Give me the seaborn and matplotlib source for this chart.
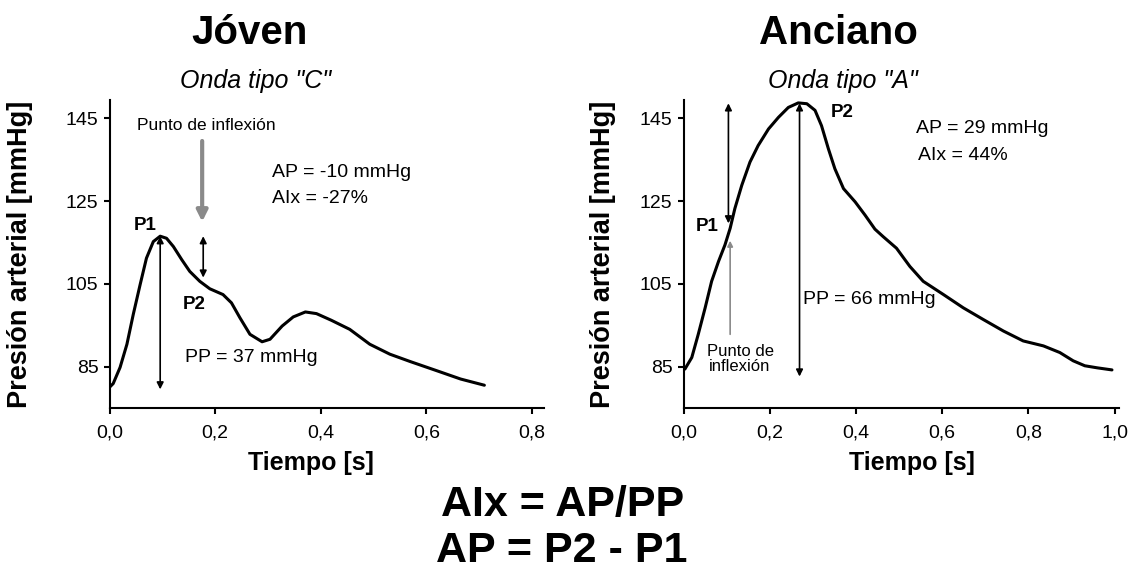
import matplotlib
matplotlib.use("Agg")
import matplotlib.pyplot as plt
import seaborn as sns
import pandas as pd

# Pressure waveform, young subject (type "C" wave)
t_joven = [0.000, 0.007, 0.020, 0.033, 0.045, 0.058, 0.070, 0.083, 0.096, 0.108,
           0.121, 0.137, 0.152, 0.171, 0.190, 0.215, 0.231, 0.247, 0.266, 0.289,
           0.304, 0.327, 0.348, 0.371, 0.392, 0.420, 0.455, 0.493, 0.531, 0.570,
           0.620, 0.665, 0.710]
p_joven = [80.0, 80.9, 84.8, 90.4, 97.6, 104.8, 111.2, 115.2, 116.5, 116.0,
           114.0, 110.8, 108.0, 105.6, 103.8, 102.4, 100.4, 96.8, 92.8, 91.0,
           91.6, 94.8, 97.0, 98.2, 97.8, 96.2, 94.0, 90.4, 88.0, 86.2,
           84.0, 82.0, 80.5]

# Pressure waveform, elderly subject (type "A" wave)
t_anciano = [0.003, 0.019, 0.034, 0.050, 0.065, 0.081, 0.096, 0.108, 0.119, 0.135,
             0.154, 0.173, 0.197, 0.220, 0.243, 0.266, 0.286, 0.305, 0.320, 0.336,
             0.351, 0.371, 0.398, 0.421, 0.444, 0.463, 0.494, 0.525, 0.556, 0.603,
             0.649, 0.695, 0.742, 0.788, 0.835, 0.873, 0.904, 0.931, 0.960, 0.994]
p_anciano = [84.4, 87.2, 92.8, 99.2, 105.6, 110.4, 114.4, 118.4, 123.2, 128.8,
             134.4, 138.4, 142.4, 145.2, 147.6, 148.7, 148.5, 146.9, 143.2, 137.6,
             132.8, 128.0, 124.8, 121.6, 118.2, 116.4, 113.6, 109.2, 105.6, 102.4,
             99.2, 96.4, 93.6, 91.2, 90.0, 88.4, 86.4, 85.2, 84.7, 84.2]

y_ticks = [85, 105, 125, 145]
x_ticks_joven = [0.0, 0.2, 0.4, 0.6, 0.8]
x_ticks_anciano = [0.0, 0.2, 0.4, 0.6, 0.8, 1.0]

# Pulse-wave analysis values
p1_joven, ap_joven, pp_joven, aix_joven = 116.5, -10, 37, -27
t_p1_joven, t_p2_joven = 0.096, 0.1775
p2_anciano, ap_anciano, pp_anciano, aix_anciano = 148.6, 29, 66, 44
t_p1_anciano, t_p2_anciano = 0.104, 0.269

sns.set_style("ticks")
plt.rcParams["font.family"] = ["Liberation Sans", "DejaVu Sans"]
plt.rcParams["text.color"] = "black"
plt.rcParams["axes.labelcolor"] = "black"
plt.rcParams["axes.linewidth"] = 1.5
plt.rcParams["xtick.major.width"] = 1.5
plt.rcParams["ytick.major.width"] = 1.5
plt.rcParams["xtick.major.size"] = 4
plt.rcParams["ytick.major.size"] = 4
plt.rcParams["xtick.color"] = "black"
plt.rcParams["ytick.color"] = "black"
plt.rcParams["axes.edgecolor"] = "black"
plt.rcParams["lines.solid_joinstyle"] = "round"
plt.rcParams["lines.solid_capstyle"] = "round"

W, H = 1137, 572
fig = plt.figure(figsize=(W / 100, H / 100), dpi=100)
ax1 = fig.add_axes([109.5 / W, 164 / H, 434 / W, 308 / H])
ax2 = fig.add_axes([683.6 / W, 164 / H, 435.7 / W, 308 / H])


def comma(v):
    return f"{v:.1f}".replace(".", ",")


def style_axis(ax, xticks, xmax):
    ax.set_xlim(0, xmax)
    ax.set_ylim(75, 149.4)
    ax.set_xticks(xticks)
    ax.set_xticklabels([comma(v) for v in xticks], fontsize=14)
    ax.set_yticks(y_ticks)
    ax.set_yticklabels([str(v) for v in y_ticks], fontsize=14)
    ax.tick_params(axis="x", pad=8)
    ax.tick_params(axis="y", pad=4)
    sns.despine(ax=ax)
    ax.set_xlabel("Tiempo [s]", fontsize=18, fontweight="bold")
    ax.set_ylabel("Presión arterial [mmHg]", fontsize=19.5, fontweight="bold")


def double_arrow(ax, x, y0, y1):
    ax.annotate("", xy=(x, y1), xytext=(x, y0),
                arrowprops=dict(arrowstyle="<|-|>", color="black", lw=1.2,
                                shrinkA=0, shrinkB=0, mutation_scale=10))


def single_arrow(ax, x, y0, y1, color, lw, ms):
    ax.annotate("", xy=(x, y1), xytext=(x, y0),
                arrowprops=dict(arrowstyle="-|>", color=color, lw=lw,
                                shrinkA=0, shrinkB=0, mutation_scale=ms))


# Young subject
df_j = pd.DataFrame({"t": t_joven, "p": p_joven})
sns.lineplot(data=df_j, x="t", y="p", ax=ax1, color="black", lw=2.2,
             estimator=None, sort=False)
style_axis(ax1, x_ticks_joven, 0.822)
ax1.xaxis.set_label_coords(0.463, -0.14)
ax1.yaxis.set_label_coords(-0.176, 0.5)

double_arrow(ax1, t_p1_joven, p1_joven, p1_joven - pp_joven)
double_arrow(ax1, t_p2_joven, p1_joven, p1_joven + ap_joven)
single_arrow(ax1, 0.1755, 139.5, 120.0, "#8a8a8a", 3.0, 16)
ax1.text(0.183, 143.3, "Punto de inflexión", ha="center", va="center", fontsize=12.5)
ax1.text(0.068, 119.0, "P1", ha="center", va="center", fontsize=13.5, fontweight="bold")
ax1.text(0.160, 100.0, "P2", ha="center", va="center", fontsize=13.5, fontweight="bold")
ax1.text(0.307, 132.0, f"AP = {ap_joven} mmHg", ha="left", va="center", fontsize=14)
ax1.text(0.307, 125.6, f"AIx = {aix_joven}%", ha="left", va="center", fontsize=14)
ax1.text(0.143, 87.2, f"PP = {pp_joven} mmHg", ha="left", va="center", fontsize=14)

# Elderly subject
df_a = pd.DataFrame({"t": t_anciano, "p": p_anciano})
sns.lineplot(data=df_a, x="t", y="p", ax=ax2, color="black", lw=2.2,
             estimator=None, sort=False)
style_axis(ax2, x_ticks_anciano, 1.011)
ax2.xaxis.set_label_coords(0.524, -0.14)
ax2.yaxis.set_label_coords(-0.155, 0.5)

double_arrow(ax2, t_p1_anciano, p2_anciano, p2_anciano - ap_anciano)
double_arrow(ax2, t_p2_anciano, p2_anciano, p2_anciano - pp_anciano)
single_arrow(ax2, 0.108, 92.8, 115.4, "#8a8a8a", 1.2, 8)
ax2.text(0.131, 86.8, "Punto de\ninflexión", ha="center", va="center",
         fontsize=12, linespacing=1.0)
ax2.text(0.054, 118.8, "P1", ha="center", va="center", fontsize=13.5, fontweight="bold")
ax2.text(0.367, 146.4, "P2", ha="center", va="center", fontsize=13.5, fontweight="bold")
ax2.text(0.539, 142.6, f"AP = {ap_anciano} mmHg", ha="left", va="center", fontsize=14)
ax2.text(0.543, 136.0, f"AIx = {aix_anciano}%", ha="left", va="center", fontsize=14)
ax2.text(0.278, 101.3, f"PP = {pp_anciano} mmHg", ha="left", va="center", fontsize=14)

# Titles and formulas
fig.text(250 / W, 1 - 44 / H, "Jóven", ha="center", va="baseline",
         fontsize=29, fontweight="bold")
fig.text(256 / W, 1 - 88 / H, 'Onda tipo "C"', ha="center", va="baseline",
         fontsize=18, style="italic")
fig.text(838 / W, 1 - 44 / H, "Anciano", ha="center", va="baseline",
         fontsize=29, fontweight="bold")
fig.text(843 / W, 1 - 88 / H, 'Onda tipo "A"', ha="center", va="baseline",
         fontsize=18, style="italic")
fig.text(563 / W, 1 - 516 / H, "AIx = AP/PP", ha="center", va="baseline",
         fontsize=31, fontweight="bold")
fig.text(562 / W, 1 - 562 / H, "AP = P2 - P1", ha="center", va="baseline",
         fontsize=31, fontweight="bold")

fig.savefig("out.png", dpi=100)
